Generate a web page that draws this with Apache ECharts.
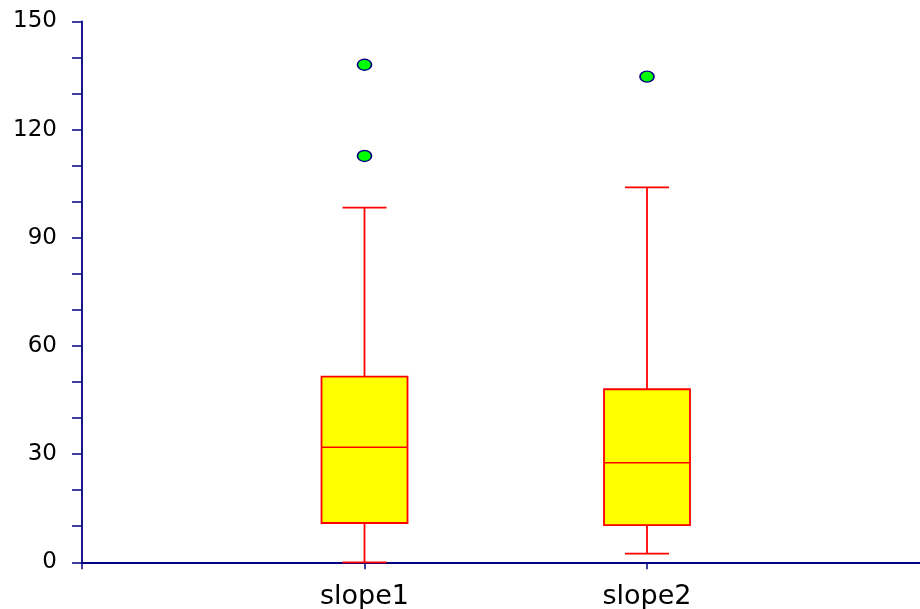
<!DOCTYPE html>
<html>
<head>
<meta charset="utf-8">
<script src="https://cdn.jsdelivr.net/npm/echarts@6/dist/echarts.min.js"></script>
<style>
  html, body { margin: 0; padding: 0; background: #ffffff; }
  #chart { width: 920px; height: 609px; }
</style>
</head>
<body>
<div id="chart"></div>
<script>
// Box-and-whisker summary for each group
const categories = ['slope1', 'slope2'];
const lowWhisker = [0, 2.4];
const lowerQuartile = [10.9, 10.3];
const medians = [31.9, 27.6];
const upperQuartile = [51.5, 48.0];
const highWhisker = [98.4, 104.0];

// Points beyond the whiskers (group index, value)
const outlierGroup = [0, 0, 1];
const outlierValues = [138.0, 112.7, 134.7];

// Value-axis labels
const yTicks = [0, 30, 60, 90, 120, 150];

const axisColor = '#000080';
const xCategories = [''].concat(categories, ['']);

const boxData = categories.map((c, i) => [
  i + 1, lowWhisker[i], lowerQuartile[i], medians[i], upperQuartile[i], highWhisker[i]
]);
const outlierData = outlierValues.map((v, k) => [outlierGroup[k] + 1, v]);

function renderBox(params, api) {
  const x = api.value(0);
  const pMin = api.coord([x, api.value(1)]);
  const pQ1 = api.coord([x, api.value(2)]);
  const pMed = api.coord([x, api.value(3)]);
  const pQ3 = api.coord([x, api.value(4)]);
  const pMax = api.coord([x, api.value(5)]);
  const cx = pMed[0];
  const half = 43;
  const cap = 22;
  const red = { stroke: '#ff0000', lineWidth: 1.8, fill: null };
  return {
    type: 'group',
    children: [
      { type: 'line', shape: { x1: cx, y1: pQ3[1], x2: cx, y2: pMax[1] }, style: red },
      { type: 'line', shape: { x1: cx, y1: pQ1[1], x2: cx, y2: pMin[1] }, style: red },
      { type: 'line', shape: { x1: cx - cap, y1: pMax[1], x2: cx + cap, y2: pMax[1] }, style: red },
      { type: 'line', shape: { x1: cx - cap, y1: pMin[1], x2: cx + cap, y2: pMin[1] }, style: red },
      {
        type: 'rect',
        shape: { x: cx - half, y: pQ3[1], width: 2 * half, height: pQ1[1] - pQ3[1] },
        style: { fill: '#ffff00', stroke: '#ff0000', lineWidth: 1.8 }
      },
      {
        type: 'line',
        shape: { x1: cx - half, y1: pMed[1], x2: cx + half, y2: pMed[1] },
        style: { stroke: '#ff0000', lineWidth: 1.5 }
      }
    ]
  };
}

const chart = echarts.init(document.getElementById('chart'));
chart.setOption({
  animation: false,
  backgroundColor: '#ffffff',
  grid: {
    left: 82, top: 21.5, bottom: 46.7, width: 847.5,
    containLabel: false,
    outerBoundsMode: 'none'
  },
  xAxis: {
    type: 'category',
    data: xCategories,
    boundaryGap: false,
    axisLine: { show: true, lineStyle: { color: axisColor, width: 1.8 } },
    axisTick: { show: true, length: 7, interval: 0, lineStyle: { color: axisColor, width: 1.5 } },
    axisLabel: {
      interval: 0,
      margin: 21,
      color: '#000000',
      fontFamily: 'DejaVu Sans',
      fontSize: 27
    },
    splitLine: { show: false }
  },
  yAxis: {
    type: 'value',
    min: yTicks[0],
    max: yTicks[yTicks.length - 1],
    interval: yTicks[1] - yTicks[0],
    axisLine: { show: true, lineStyle: { color: axisColor, width: 1.8 } },
    axisTick: { show: true, length: 10, lineStyle: { color: axisColor, width: 1.5 } },
    minorTick: { show: true, splitNumber: 3, length: 10, lineStyle: { color: axisColor, width: 1.5 } },
    axisLabel: {
      margin: 25,
      color: '#000000',
      fontFamily: 'DejaVu Sans',
      fontSize: 23
    },
    splitLine: { show: false },
    minorSplitLine: { show: false }
  },
  series: [
    {
      type: 'custom',
      renderItem: renderBox,
      encode: { x: 0, y: [1, 2, 3, 4, 5] },
      data: boxData,
      z: 5
    },
    {
      type: 'scatter',
      data: outlierData,
      symbol: 'circle',
      symbolSize: [14, 11],
      itemStyle: { color: '#00ff00', borderColor: axisColor, borderWidth: 1.5, opacity: 1 },
      z: 6
    }
  ]
});
</script>
</body>
</html>
